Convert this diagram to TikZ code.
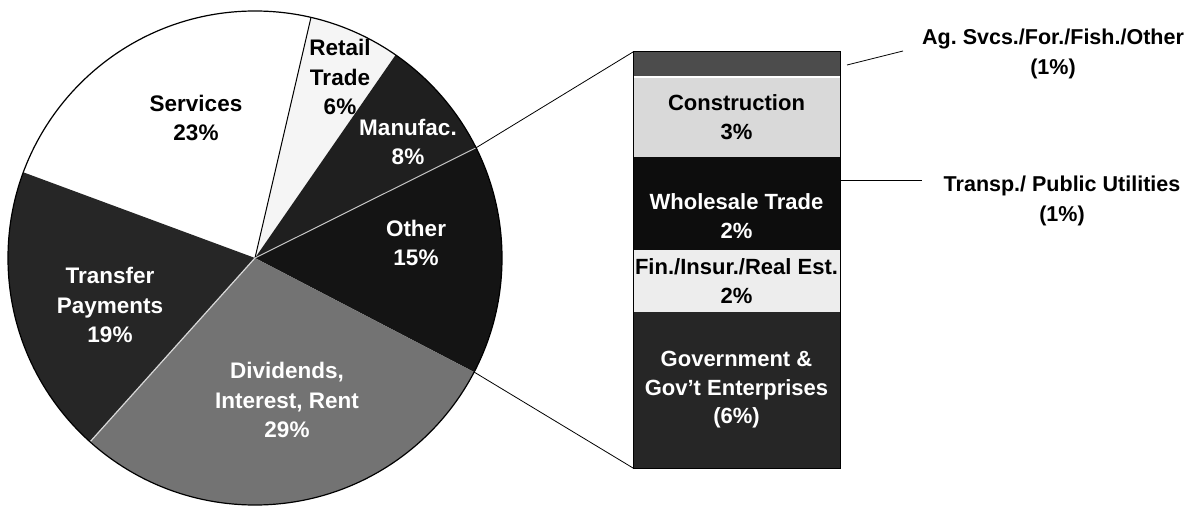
\documentclass[tikz,border=0pt]{standalone}
\usepackage{fontspec}
\setmainfont{Liberation Sans}
\usetikzlibrary{calc}
\frenchspacing
\begin{document}
\begin{tikzpicture}[x=1pt,y=1pt,
  lbl/.style={font=\bfseries\fontsize{22.5}{29.5}\selectfont, align=center, inner sep=0pt},
  barlbl/.style={font=\bfseries\fontsize{22}{28.5}\selectfont, align=center, inner sep=0pt},
  sidelbl/.style={font=\bfseries\fontsize{21.5}{30}\selectfont, align=center, inner sep=0pt},
  seg/.style={rectangle, minimum width=207pt, inner sep=0pt, outer sep=0pt, barlbl},
  conn/.style={draw=black, line width=0.8pt}]
\useasboundingbox (0,0) rectangle (1201,506);
\fill[white] (0,0) rectangle (1201,506);
% pie slices
\coordinate (C) at (255,248);
\def\R{247}
\fill[white]    (C) -- ++(76.9:\R)  arc[start angle=76.9,  end angle=159.7, radius=\R] -- cycle;
\fill[gray!8]   (C) -- ++(55.3:\R)  arc[start angle=55.3,  end angle=76.9,  radius=\R] -- cycle;
\fill[black!88] (C) -- ++(26.5:\R)  arc[start angle=26.5,  end angle=55.3,  radius=\R] -- cycle;
\fill[black!92] (C) -- ++(-27.5:\R) arc[start angle=-27.5, end angle=26.5,  radius=\R] -- cycle;
\fill[black!55] (C) -- ++(228.1:\R) arc[start angle=228.1, end angle=332.5, radius=\R] -- cycle;
\fill[black!85] (C) -- ++(159.7:\R) arc[start angle=159.7, end angle=228.1, radius=\R] -- cycle;
\coordinate (psr) at ($(C)+(76.9:\R)$);
\coordinate (pmo) at ($(C)+(26.5:\R)$);
\coordinate (pod) at ($(C)+(-27.5:\R)$);
\coordinate (pdt) at ($(C)+(228.1:\R)$);
\draw[line width=1pt] (C) -- (psr);
\draw[gray!45, line width=1pt] (C) -- (pmo);
\draw[gray!30, line width=1.2pt] (C) -- (pdt);
\draw[line width=1.2pt] (C) circle (\R);
% pie labels
\node[lbl] (serv) at (196,388) {Services\\23\%};
\node[lbl] (ret) at (340,429) {Retail\\Trade\\6\%};
\node[lbl, white] (manu) at (408,364) {Manufac.\\8\%};
\node[lbl, white] (oth) at (416,263) {Other\\15\%};
\node[lbl, white] (trans) at (110,201) {Transfer\\Payments\\19\%};
\node[lbl, white] (div) at (287,106) {Dividends,\\Interest, Rent\\29\%};
% bar
\node[seg, fill=black!70, minimum height=25pt] (ag) at (736.5,441.5) {};
\node[seg, fill=black!15, minimum height=80pt] (constr) at (736.5,389) {Construction\\3\%};
\node[seg, fill=black!95, minimum height=25pt] (tpu) at (736.5,336.5) {};
\node[seg, fill=black!95, minimum height=68pt, text=white] (whole) at (736.5,290) {Wholesale Trade\\2\%};
\node[seg, fill=black!7, minimum height=62pt] (fin) at (736.5,225) {Fin./Insur./Real Est.\\2\%};
\node[seg, fill=black!85, minimum height=156pt, text=white] (gov) at (736.5,116) {Government \&\\Gov't Enterprises\\(6\%)};
\draw[white, line width=1.5pt] (constr.north west) -- (constr.north east);
\draw[line width=1pt] (ag.north west) rectangle (gov.south east);
% side labels
\node[sidelbl] (aglbl) at (1053,452.5) {Ag. Svcs./For./Fish./Other\\(1\%)};
\node[sidelbl] (tpulbl) at (1062,305) {Transp./ Public Utilities\\(1\%)};
\coordinate (agA) at (847,441);
\coordinate (agB) at (903,455);
\coordinate (tpuB) at (922,326);
\coordinate (tpuA) at (tpu.east |- tpuB);
% connectors
\draw[conn] (pmo) -- (ag.north west);
\draw[conn] (pod) -- (gov.south west);
\draw[conn] (agA) -- (agB);
\draw[conn] (tpuA) -- (tpuB);
\end{tikzpicture}
\end{document}
